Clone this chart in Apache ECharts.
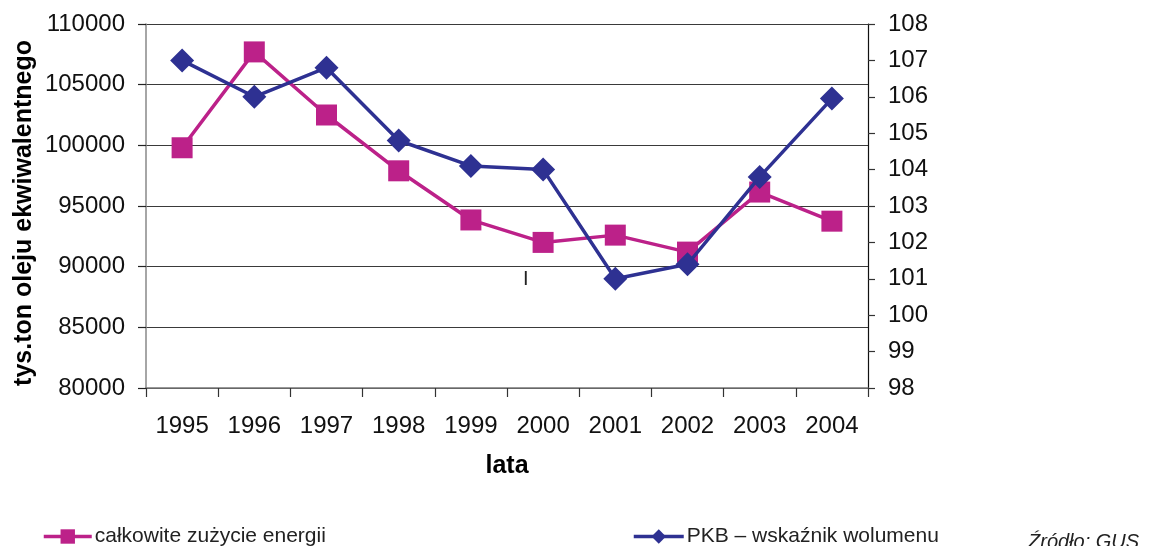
<!DOCTYPE html>
<html><head><meta charset="utf-8">
<script src="https://cdn.jsdelivr.net/npm/echarts@6/dist/echarts.min.js"></script>
<style>html,body{margin:0;padding:0;background:#fff}#c{width:1155px;height:546px}</style>
</head><body><div id="c"></div>
<script>
const years = ['1995','1996','1997','1998','1999','2000','2001','2002','2003','2004'];
const energia = [99800, 107700, 102500, 97900, 93850, 92000, 92600, 91200, 96150, 93750];
const pkb = [107.0, 106.0, 106.8, 104.8, 104.1, 104.0, 101.0, 101.4, 103.8, 105.95];
const leftTicks = {min: 80000, max: 110000, interval: 5000};
const rightTicks = {min: 98, max: 108, interval: 1};
const nameEnergia = 'całkowite zużycie energii';
const namePkb = 'PKB – wskaźnik wolumenu';
const yName = 'tys.ton oleju ekwiwalentnego';

const FONT = '"Liberation Sans", Arial, sans-serif';
const PINK = '#BC2189';
const BLUE = '#2E3192';
const chart = echarts.init(document.getElementById('c'), null, {renderer: 'canvas'});
chart.setOption({
  animation: false,
  backgroundColor: '#fff',
  textStyle: {fontFamily: FONT},
  grid: {left: 146, right: 287, top: 24, bottom: 158, containLabel: false},
  legend: [
    {data: [nameEnergia], left: 42, top: 526, padding: 0, itemWidth: 48, itemHeight: 18, itemGap: 10,
     lineStyle: {width: 3.5},
     textStyle: {fontFamily: FONT, fontSize: 21, color: '#222', padding: [0,0,0,-2]}},
    {data: [namePkb], left: 632, top: 526, padding: 0, itemWidth: 50, itemHeight: 18, itemGap: 10,
     lineStyle: {width: 3.5},
     textStyle: {fontFamily: FONT, fontSize: 21, color: '#222', padding: [0,0,0,-2]}}
  ],
  xAxis: {
    type: 'category', data: years, boundaryGap: true,
    name: 'lata', nameLocation: 'middle', nameGap: 66,
    nameTextStyle: {fontFamily: FONT, fontSize: 25, fontWeight: 'bold', color: '#000'},
    axisLine: {lineStyle: {color: '#777', width: 1.5}},
    axisTick: {show: true, alignWithLabel: false, length: 9, lineStyle: {color: '#333', width: 1.2}},
    axisLabel: {fontFamily: FONT, fontSize: 24, color: '#111', margin: 26},
    splitLine: {show: false}
  },
  yAxis: [
    {
      type: 'value', min: leftTicks.min, max: leftTicks.max, interval: leftTicks.interval,
      position: 'left',
      axisLine: {show: true, lineStyle: {color: '#888', width: 1.5}},
      axisTick: {show: true, length: 8, lineStyle: {color: '#222', width: 1.2}},
      axisLabel: {fontFamily: FONT, fontSize: 24, color: '#111', margin: 21,
                  formatter: function (v) { return String(v); }},
      splitLine: {show: true, lineStyle: {color: '#3a3a3a', width: 1}}
    },
    {
      type: 'value', min: rightTicks.min, max: rightTicks.max, interval: rightTicks.interval,
      position: 'right',
      axisLine: {show: true, lineStyle: {color: '#111', width: 1.2}},
      axisTick: {show: true, length: 7, lineStyle: {color: '#333', width: 1.2}},
      axisLabel: {fontFamily: FONT, fontSize: 24, color: '#111', margin: 20,
                  formatter: function (v) { return String(v); }},
      splitLine: {show: false}
    }
  ],
  series: [
    {
      name: nameEnergia, type: 'line', yAxisIndex: 0, data: energia,
      symbol: 'rect', symbolSize: 21,
      lineStyle: {color: PINK, width: 3.5}, itemStyle: {color: PINK}, z: 2
    },
    {
      name: namePkb, type: 'line', yAxisIndex: 1, data: pkb,
      symbol: 'diamond', symbolSize: [24, 24],
      lineStyle: {color: BLUE, width: 3.5}, itemStyle: {color: BLUE}, z: 3
    }
  ],
  graphic: [
    {type: 'text', x: 24, y: 213, rotation: Math.PI / 2,
     style: {text: yName, font: 'bold 25px ' + FONT, fill: '#000', align: 'center', verticalAlign: 'middle'}},
    {type: 'text', left: 523, top: 269, style: {text: 'I', font: '20px ' + FONT, fill: '#222'}},
    {type: 'text', left: 1028, top: 532, style: {text: 'Źródło: GUS', font: 'italic 20px ' + FONT, fill: '#222'}}
  ]
});
</script></body></html>
